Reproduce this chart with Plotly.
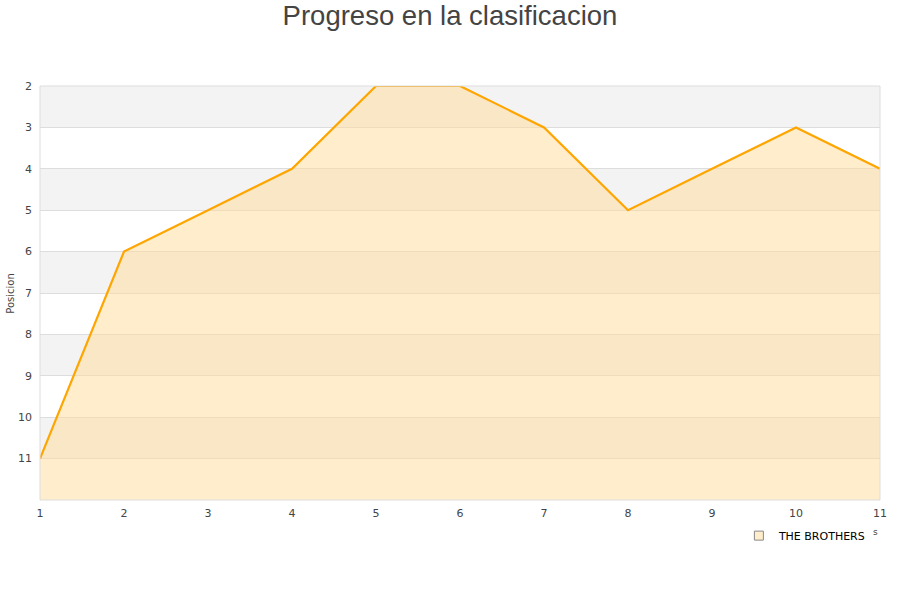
import plotly.graph_objects as go

jornadas = [1, 2, 3, 4, 5, 6, 7, 8, 9, 10, 11]
posicion = [11, 6, 5, 4, 2, 2, 3, 5, 4, 3, 4]
equipo = "THE BROTHERS"
y_ticks = [2, 3, 4, 5, 6, 7, 8, 9, 10, 11]

fig = go.Figure()

# baseline at the bottom of the plot for the fill
fig.add_trace(go.Scatter(x=jornadas, y=[12] * len(jornadas), mode="lines",
                         line=dict(width=0, color="rgba(0,0,0,0)"),
                         showlegend=False, hoverinfo="skip"))
fig.add_trace(go.Scatter(x=jornadas, y=posicion, mode="lines", fill="tonexty",
                         fillcolor="rgba(255,219,153,0.5)",
                         line=dict(color="#ffa500", width=2.2),
                         showlegend=False, name=equipo))
# legend entry
fig.add_trace(go.Scatter(x=[None], y=[None], mode="markers", name=equipo,
                         marker=dict(symbol="square", size=9, color="#ffedcc",
                                     line=dict(color="#888888", width=1))))

shapes = []
for lo in range(2, 12, 2):
    shapes.append(dict(type="rect", xref="paper", yref="y", x0=0, x1=1,
                       y0=lo, y1=lo + 1, fillcolor="#f3f3f3", line=dict(width=0),
                       layer="below"))
shapes.append(dict(type="rect", xref="paper", yref="paper", x0=0, x1=1, y0=0, y1=1,
                   line=dict(color="#dddddd", width=1), fillcolor="rgba(0,0,0,0)"))

fig.update_layout(
    width=900, height=600,
    paper_bgcolor="white", plot_bgcolor="white",
    margin=dict(l=40, r=20, t=86, b=100, autoexpand=False),
    title=dict(text="Progreso en la clasificacion", x=0.5, xanchor="center",
               y=0.975, yref="container", yanchor="middle",
               font=dict(family="Liberation Sans, Arial", size=27.5, color="#444444")),
    font=dict(family="DejaVu Sans", size=11, color="#444444"),
    shapes=shapes,
    showlegend=True,
    legend=dict(orientation="h", x=0.832, xanchor="left", y=-0.051, yanchor="top",
                font=dict(family="DejaVu Sans", size=11, color="#000000"),
                bgcolor="rgba(0,0,0,0)"),
    xaxis=dict(range=[1, 11], tickmode="array", tickvals=jornadas,
               showgrid=False, zeroline=False, showline=False, automargin=False,
               ticks="", ticklabelstandoff=5, tickfont=dict(size=11, color="#444444")),
    yaxis=dict(range=[12, 2], tickmode="array", tickvals=y_ticks,
               showgrid=True, gridcolor="#dddddd", gridwidth=1, automargin=False,
               zeroline=False, showline=False, ticks="", ticklabelstandoff=7,
               tickfont=dict(size=11, color="#444444")),
)
fig.add_annotation(text="Posicion", xref="paper", yref="paper", x=-0.036, y=0.5,
                   textangle=-90, showarrow=False, xanchor="center", yanchor="middle",
                   font=dict(size=10, color="#444444"))
fig.add_annotation(text="s", xref="paper", yref="paper", x=1.0, y=-0.0945,
                   showarrow=False, font=dict(size=9, color="#444444"))

fig.write_html("out.html", config={"displayModeBar": False},
               post_script="document.body.style.margin='0';")
